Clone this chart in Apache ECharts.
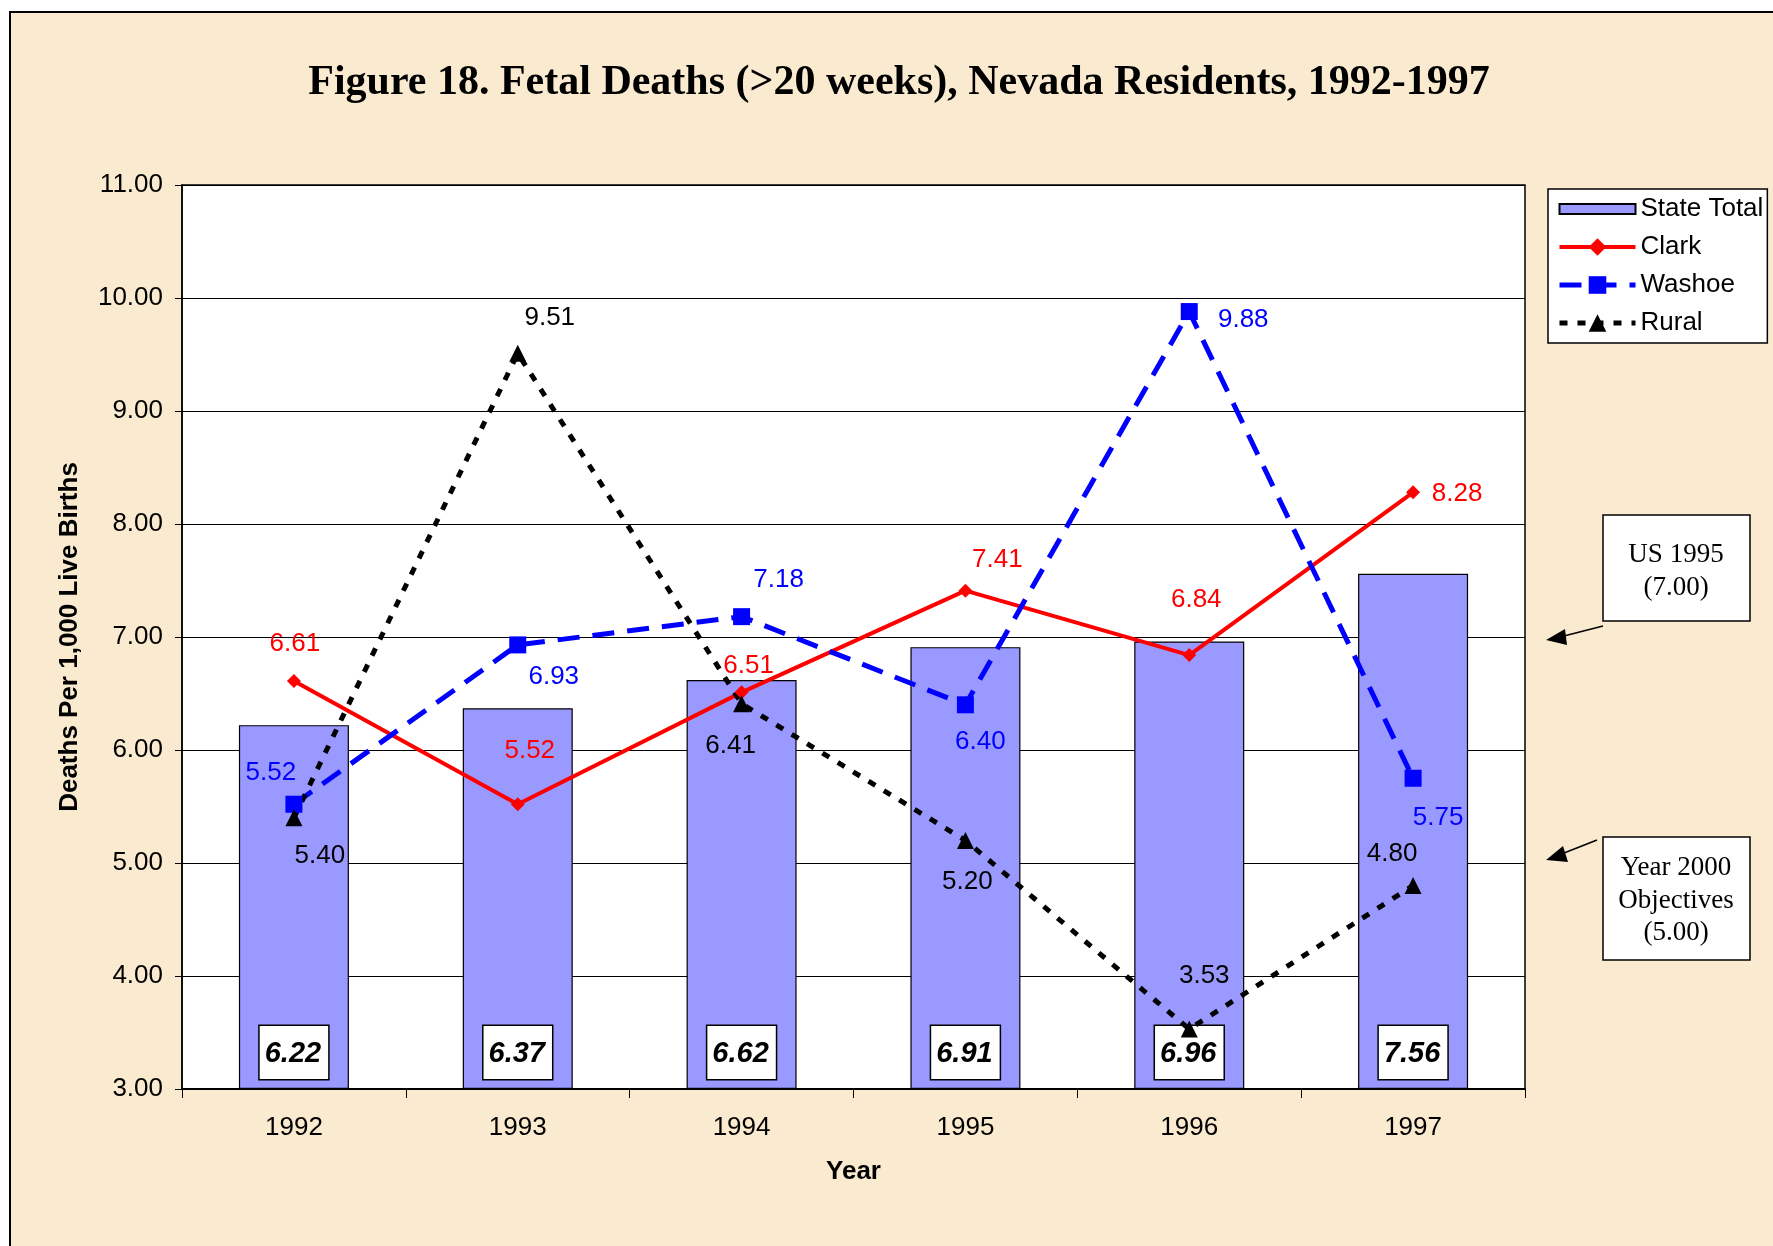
<!DOCTYPE html>
<html>
<head>
<meta charset="utf-8">
<script src="https://cdn.jsdelivr.net/npm/echarts@6/dist/echarts.min.js"></script>
<style>
  body { margin: 0; background: #fff; }
  #wrap { position: relative; width: 1773px; height: 1246px; overflow: hidden; }
  #panel { position: absolute; left: 9px; top: 11px; width: 1800px; height: 1300px;
           background: #FAEBD0; border-left: 2px solid #000; border-top: 2px solid #000; }
  #main { position: absolute; left: 0; top: 0; width: 1773px; height: 1246px; }
</style>
</head>
<body>
<div id="wrap">
  <div id="panel"></div>
  <div id="main"></div>
</div>
<script type="text/javascript">
	// data
	var years = ['1992', '1993', '1994', '1995', '1996', '1997'];
	var stateTotal = [6.22, 6.37, 6.62, 6.91, 6.96, 7.56];
	var clark = [6.61, 5.52, 6.51, 7.41, 6.84, 8.28];
	var washoe = [5.52, 6.93, 7.18, 6.40, 9.88, 5.75];
	var rural = [5.40, 9.51, 6.41, 5.20, 3.53, 4.80];

	// label offsets (pixels from point)
	var clarkOff = [[1, -37], [12, -53], [7, -27], [32, -31], [7, -55], [44, 1]];
	var washoeOff = [[-23, -31], [36, 32], [37, -37], [15, 37], [54, 8], [25, 40]];
	var ruralOff = [[26, 38], [32, -36], [-11, 42], [2, 41], [15, -53], [-21, -32]];

	function withOffsets(values, offs) {
		return values.map(function (v, i) {
			return { value: v, label: { offset: offs[i] } };
		});
	}

	function lineLabel(color) {
		return {
			show: true,
			position: 'inside',
			color: color,
			fontSize: 26,
			fontFamily: 'Liberation Sans',
			formatter: function (p) { return p.value.toFixed(2); }
		};
	}

	var serifText = '27px "Liberation Serif"';

	var chart = echarts.init(document.getElementById('main'));
	chart.setOption({
		backgroundColor: 'transparent',
		animation: false,
		textStyle: { fontFamily: 'Liberation Sans', color: '#000' },
		grid: {
			left: 182, top: 185, width: 1343, height: 904,
			show: true, backgroundColor: '#fff', borderColor: '#000', borderWidth: 1.5
		},
		legend: {
			orient: 'vertical',
			left: 1548, top: 189,
			padding: [7, 4, 7, 9],
			itemGap: 12,
			itemWidth: 76,
			itemHeight: 22,
			backgroundColor: '#fff',
			borderColor: '#000',
			borderWidth: 1.5,
			borderRadius: 0,
			textStyle: { fontSize: 26, fontFamily: 'Liberation Sans', color: '#000' },
			data: [
				{ name: 'State Total', icon: 'path://M0,0L76,0L76,10L0,10Z' },
				{ name: 'Clark', lineStyle: { width: 4 } },
				{ name: 'Washoe', lineStyle: { width: 5 } },
				{ name: 'Rural', lineStyle: { width: 5 } }
			]
		},
		xAxis: {
			type: 'category',
			data: years,
			name: 'Year',
			nameLocation: 'middle',
			nameGap: 70,
			nameTextStyle: { fontSize: 26, fontWeight: 'bold', color: '#000' },
			axisLine: { lineStyle: { color: '#000', width: 2 } },
			axisTick: { show: true, length: 9, lineStyle: { color: '#000' } },
			axisLabel: { fontSize: 26, color: '#000', margin: 26 }
		},
		yAxis: {
			type: 'value',
			min: 3, max: 11, interval: 1,
			startValue: 3,
			name: 'Deaths Per 1,000 Live Births',
			nameLocation: 'middle',
			nameGap: 99,
			nameTextStyle: { fontSize: 26, fontWeight: 'bold', color: '#000' },
			axisLine: { show: true, lineStyle: { color: '#000', width: 1.5 } },
			axisTick: { show: true, length: 7, lineStyle: { color: '#000' } },
			axisLabel: { fontSize: 26, color: '#000', margin: 19,
				formatter: function (v) { return v.toFixed(2); } },
			splitLine: { lineStyle: { color: '#000', width: 1.2 } }
		},
		series: [
			{
				name: 'State Total',
				type: 'bar',
				barWidth: 110,
				data: stateTotal,
				itemStyle: { color: '#9999FF', borderColor: '#000', borderWidth: 1.2 },
				label: {
					show: true,
					position: 'insideBottom',
					distance: 10,
					fontSize: 29,
					fontWeight: 'bold',
					fontStyle: 'italic',
					fontFamily: 'Liberation Sans',
					color: '#000',
					backgroundColor: '#fff',
					borderColor: '#000',
					borderWidth: 1.5,
					padding: [13, 7, 11, 5],
					formatter: function (p) { return p.value.toFixed(2); }
				}
			},
			{
				name: 'Clark',
				type: 'line',
				data: withOffsets(clark, clarkOff),
				symbol: 'diamond',
				symbolSize: 14,
				itemStyle: { color: '#FF0000' },
				lineStyle: { color: '#FF0000', width: 4 },
				label: lineLabel('#FF0000')
			},
			{
				name: 'Washoe',
				type: 'line',
				data: withOffsets(washoe, washoeOff),
				symbol: 'rect',
				symbolSize: 17,
				itemStyle: { color: '#0000FF' },
				lineStyle: { color: '#0000FF', width: 5, type: [22, 13] },
				label: lineLabel('#0000FF')
			},
			{
				name: 'Rural',
				type: 'line',
				data: withOffsets(rural, ruralOff),
				symbol: 'triangle',
				symbolSize: 17,
				itemStyle: { color: '#000' },
				lineStyle: { color: '#000', width: 5, type: [8, 10] },
				label: lineLabel('#000')
			}
		],
		graphic: [
			{
				type: 'text', x: 899, y: 83,
				style: {
					text: 'Figure 18. Fetal Deaths (>20 weeks), Nevada Residents, 1992-1997',
					font: 'bold 42px "Liberation Serif"',
					fill: '#000', align: 'center', verticalAlign: 'middle'
				}
			},
			// US 1995 box + arrow
			{
				type: 'rect', shape: { x: 1603, y: 515, width: 147, height: 106 },
				style: { fill: '#fff', stroke: '#000', lineWidth: 1.5 }
			},
			{
				type: 'text', x: 1676, y: 555,
				style: { text: 'US 1995', font: serifText, fill: '#000', align: 'center', verticalAlign: 'middle' }
			},
			{
				type: 'text', x: 1676, y: 588,
				style: { text: '(7.00)', font: serifText, fill: '#000', align: 'center', verticalAlign: 'middle' }
			},
			{
				type: 'line', shape: { x1: 1603, y1: 626, x2: 1560, y2: 637 },
				style: { stroke: '#000', lineWidth: 1.5 }
			},
			{
				type: 'polygon', shape: { points: [[1546, 640], [1565, 629], [1567, 645]] },
				style: { fill: '#000' }
			},
			// Year 2000 box + arrow
			{
				type: 'rect', shape: { x: 1603, y: 837, width: 147, height: 123 },
				style: { fill: '#fff', stroke: '#000', lineWidth: 1.5 }
			},
			{
				type: 'text', x: 1676, y: 868,
				style: { text: 'Year 2000', font: serifText, fill: '#000', align: 'center', verticalAlign: 'middle' }
			},
			{
				type: 'text', x: 1676, y: 901,
				style: { text: 'Objectives', font: serifText, fill: '#000', align: 'center', verticalAlign: 'middle' }
			},
			{
				type: 'text', x: 1676, y: 933,
				style: { text: '(5.00)', font: serifText, fill: '#000', align: 'center', verticalAlign: 'middle' }
			},
			{
				type: 'line', shape: { x1: 1597, y1: 840, x2: 1559, y2: 855 },
				style: { stroke: '#000', lineWidth: 1.5 }
			},
			{
				type: 'polygon', shape: { points: [[1546, 860], [1563, 846], [1568, 862]] },
				style: { fill: '#000' }
			}
		]
	});
</script>
</body>
</html>
